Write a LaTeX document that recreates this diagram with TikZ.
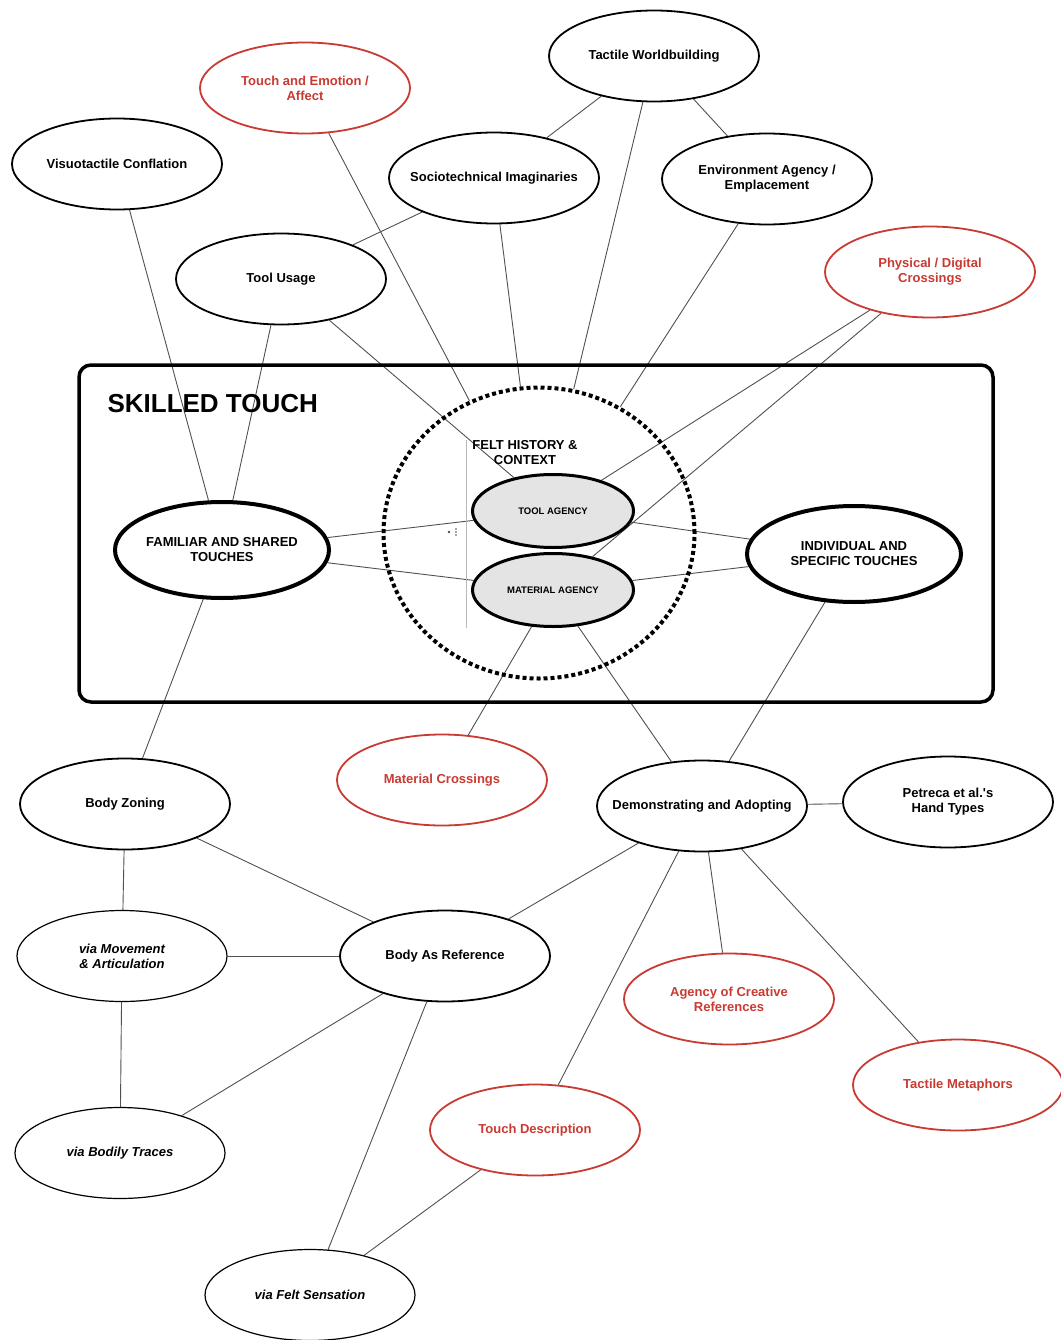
\documentclass[tikz,border=0pt]{standalone}
\usepackage{fontspec}
\setmainfont{Liberation Sans}
\usepackage{xcolor}
\usetikzlibrary{shapes.geometric,backgrounds}
\definecolor{TouchRed}{HTML}{C93A32}
\definecolor{TouchGray}{HTML}{E4E4E4}
\definecolor{TouchLine}{HTML}{505050}

\begin{document}
\begin{tikzpicture}[x=1pt,y=-1pt,
  bubble/.style={ellipse,draw=black,line width=1.8pt,fill=white,inner xsep=-25pt,inner ysep=0pt,
    minimum width=210pt,minimum height=91pt,align=center,
    font=\fontsize{13}{15}\selectfont\bfseries},
  redbubble/.style={bubble,draw=TouchRed,text=TouchRed},
  viabubble/.style={bubble,line width=1.2pt,font=\fontsize{13}{15}\selectfont\bfseries\itshape},
  keybubble/.style={bubble,line width=4pt,minimum width=214pt,minimum height=96pt},
  agency/.style={bubble,line width=3pt,fill=TouchGray,minimum width=161pt,minimum height=73pt,
    font=\fontsize{9.5}{11}\selectfont\bfseries},
  link/.style={TouchLine,line width=0.9pt}]
\useasboundingbox (0,0) rectangle (1060,1340);

% upper ring of concepts
\node[bubble] (worldbuild) at (654,56) {Tactile Worldbuilding};
\node[redbubble] (emotion) at (305,88) {Touch and Emotion /\\Affect};
\node[bubble] (visuo) at (117,164) {Visuotactile Conflation};
\node[bubble] (imaginaries) at (494,178) {Sociotechnical Imaginaries};
\node[bubble] (environment) at (767,179) {Environment Agency /\\Emplacement};
\node[redbubble] (crossdigital) at (930,272) {Physical / Digital\\Crossings};
\node[bubble] (toolusage) at (281,279) {Tool Usage};

% skilled touch frame
\draw[line width=3.5pt,rounded corners=12pt] (79,365) rectangle (993,702);
\node[anchor=west,font=\fontsize{26}{30}\selectfont\bfseries] (skilled) at (104,404) {SKILLED TOUCH};
\node[ellipse,draw,line width=4pt,dash pattern=on 4pt off 3pt,
  minimum width=311pt,minimum height=291pt] (felt) at (539,533) {};
\draw[gray!55,line width=0.8pt] (466,440) -- (466,628);
\fill[black!70] (449,532) circle (1.3pt);
\foreach \y in {529,532,535} \fill[black!70] (456,\y) circle (0.9pt);
\node[align=center,font=\fontsize{13}{15}\selectfont\bfseries] (feltlabel) at (525,453) {FELT HISTORY \&\\CONTEXT};
\node[agency] (toolagency) at (553,511) {TOOL AGENCY};
\node[agency] (materialagency) at (553,590) {MATERIAL AGENCY};
\node[keybubble] (familiar) at (222,550) {FAMILIAR AND SHARED\\TOUCHES};
\node[keybubble] (individual) at (854,554) {INDIVIDUAL AND\\SPECIFIC TOUCHES};

% lower concepts
\node[bubble] (zoning) at (125,804) {Body Zoning};
\node[redbubble] (materialcross) at (442,780) {Material Crossings};
\node[bubble] (demonstrating) at (702,806) {Demonstrating and Adopting};
\node[bubble] (handtypes) at (948,802) {Petreca et al.\textquotesingle s\\Hand Types};
\node[viabubble] (movement) at (122,956) {via Movement\\\& Articulation};
\node[bubble] (bodyref) at (445,956) {Body As Reference};
\node[redbubble] (creative) at (729,999) {Agency of Creative\\References};
\node[redbubble] (metaphors) at (958,1085) {Tactile Metaphors};
\node[redbubble] (description) at (535,1130) {Touch Description};
\node[viabubble] (traces) at (120,1153) {via Bodily Traces};
\node[viabubble] (feltsensation) at (310,1295) {via Felt Sensation};

% connectors
\begin{scope}[on background layer]
\draw[link] (worldbuild) -- (imaginaries);
\draw[link] (worldbuild) -- (environment);
\draw[link] (worldbuild) -- (felt);
\draw[link] (imaginaries) -- (felt);
\draw[link] (environment) -- (felt);
\draw[link] (emotion) -- (felt);
\draw[link] (toolusage) -- (imaginaries);
\draw[link] (toolusage) -- (toolagency);
\draw[link] (toolusage) -- (familiar);
\draw[link] (visuo) -- (familiar);
\draw[link] (crossdigital) -- (toolagency);
\draw[link] (crossdigital) -- (materialagency);
\draw[link] (familiar) -- (toolagency);
\draw[link] (familiar) -- (materialagency);
\draw[link] (toolagency) -- (individual);
\draw[link] (materialagency) -- (individual);
\draw[link] (materialagency) -- (materialcross);
\draw[link] (materialagency) -- (demonstrating);
\draw[link] (individual) -- (demonstrating);
\draw[link] (familiar) -- (zoning);
\draw[link] (demonstrating) -- (handtypes);
\draw[link] (zoning) -- (movement);
\draw[link] (zoning) -- (bodyref);
\draw[link] (movement) -- (bodyref);
\draw[link] (movement) -- (traces);
\draw[link] (bodyref) -- (traces);
\draw[link] (bodyref) -- (feltsensation);
\draw[link] (demonstrating) -- (bodyref);
\draw[link] (demonstrating) -- (description);
\draw[link] (demonstrating) -- (creative);
\draw[link] (demonstrating) -- (metaphors);
\draw[link] (description) -- (feltsensation);
\end{scope}
\end{tikzpicture}
\end{document}
